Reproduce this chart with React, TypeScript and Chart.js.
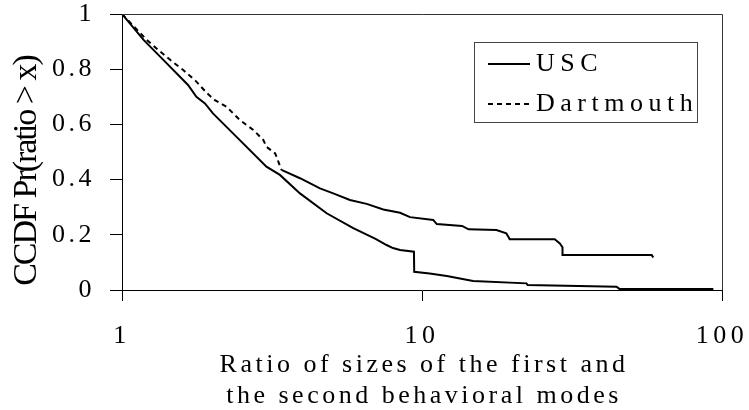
import React, { useEffect, useRef } from "react";
import { Chart, registerables } from "chart.js";

Chart.register(...registerables);

// ---- data ----
const uscX = [1, 1.18, 1.41, 1.66, 1.77, 1.89, 2.01, 2.47, 3.03, 3.36, 3.92, 4.81, 5.9, 7.0, 7.62, 8.0, 8.45, 9.4, 9.42, 10.6, 12.1, 14.8, 22.3, 22.5, 44.5, 45.5, 93.6];
const uscY = [1, 0.906, 0.821, 0.743, 0.7, 0.676, 0.64, 0.543, 0.447, 0.417, 0.35, 0.278, 0.224, 0.185, 0.163, 0.152, 0.145, 0.139, 0.066, 0.06, 0.051, 0.033, 0.024, 0.018, 0.012, 0.004, 0.004];

const dartX = [1, 1.21, 1.32, 1.45, 1.6, 1.77, 1.92, 2.04, 2.23, 2.47, 2.74, 2.96, 3.03, 3.24, 3.32, 3.4, 3.92, 4.57, 5.06, 5.75, 6.54, 7.43, 8.45, 9.12, 10.9, 11.2, 13.6, 14.3, 17.7, 19.1, 19.4, 19.6, 27.7, 28.8, 29.4, 29.4, 58.3, 59];
const dartY = [1, 0.906, 0.87, 0.833, 0.797, 0.755, 0.713, 0.688, 0.664, 0.616, 0.58, 0.543, 0.519, 0.495, 0.465, 0.435, 0.405, 0.368, 0.35, 0.326, 0.312, 0.292, 0.28, 0.264, 0.254, 0.239, 0.232, 0.22, 0.217, 0.205, 0.193, 0.184, 0.184, 0.169, 0.155, 0.127, 0.127, 0.118];

const seriesLabels = ["USC", "Dartmouth"];
const xTickValues = [1, 10, 100];
const xTickLabels = ["1", "10", "100"];
const yTickValues = [0, 0.2, 0.4, 0.6, 0.8, 1];
const yTickLabels = ["0", "0.2", "0.4", "0.6", "0.8", "1"];
const xTitleLines = ["Ratio of sizes of the first and", "the second behavioral modes"];
const yTitle = "CCDF Pr(ratio > x)";
const dartDashedBelowX = 3.35;

const FONT = "'Liberation Serif', 'Times New Roman', serif";
const DASH = [5, 4];

const decorPlugin = {
  id: "decor",
  beforeLayout(chart: any) {
    chart.ctx.letterSpacing = "4.5px";
  },
  afterLayout(chart: any) {
    const ys = chart.scales.y;
    if (ys && !ys.__patched) {
      const orig = ys.drawLabels;
      ys.drawLabels = function (area: any) {
        const c = this.ctx;
        c.save();
        c.letterSpacing = "3.5px";
        orig.call(this, area);
        c.restore();
      };
      ys.__patched = true;
    }
  },
  beforeDraw(chart: any) {
    chart.ctx.letterSpacing = "4.5px";
  },
  afterDraw(chart: any) {
    const { ctx, chartArea: ca } = chart;
    ctx.save();
    ctx.letterSpacing = "0px";
    // frame top + right
    ctx.strokeStyle = "#333";
    ctx.lineWidth = 1;
    ctx.setLineDash([]);
    ctx.beginPath();
    ctx.moveTo(ca.left, Math.round(ca.top) + 0.5);
    ctx.lineTo(Math.round(ca.right) + 0.5, Math.round(ca.top) + 0.5);
    ctx.lineTo(Math.round(ca.right) + 0.5, ca.bottom);
    ctx.stroke();

    // x title
    ctx.fillStyle = "#000";
    ctx.font = `26px ${FONT}`;
    ctx.letterSpacing = "3.5px";
    ctx.textAlign = "center";
    ctx.textBaseline = "alphabetic";
    const cx = (ca.left + ca.right) / 2 + 2;
    ctx.fillText(xTitleLines[0], cx, ca.bottom + 82);
    ctx.fillText(xTitleLines[1], cx, ca.bottom + 113);

    // y title
    ctx.save();
    ctx.translate(36, 171);
    ctx.rotate(-Math.PI / 2);
    ctx.font = `34px ${FONT}`;
    ctx.letterSpacing = "-2px";
    ctx.textAlign = "center";
    ctx.textBaseline = "alphabetic";
    ctx.fillText(yTitle, 0, 0);
    ctx.restore();

    // legend
    const bx = 474, by = 42, bw = 223, bh = 80;
    ctx.strokeStyle = "#444";
    ctx.lineWidth = 1;
    ctx.strokeRect(bx + 0.5, by + 0.5, bw, bh);
    const rows = [64, 104];
    chart.data.datasets.forEach((ds: any, i: number) => {
      const y = rows[i];
      ctx.strokeStyle = "#000";
      ctx.lineWidth = 2;
      ctx.setLineDash(i === 1 ? DASH : []);
      ctx.beginPath();
      ctx.moveTo(488, y);
      ctx.lineTo(530, y);
      ctx.stroke();
      ctx.setLineDash([]);
      ctx.font = `26px ${FONT}`;
      ctx.letterSpacing = "5.5px";
      ctx.textAlign = "left";
      ctx.textBaseline = "middle";
      ctx.fillStyle = "#000";
      ctx.fillText(ds.label, 536, y + 0.5);
    });
    ctx.restore();
  },
};

export default function App() {
  const ref = useRef<HTMLCanvasElement | null>(null);

  useEffect(() => {
    document.body.style.margin = "0";
    const canvas = ref.current;
    if (!canvas) return;
    const usc = uscX.map((x, i) => ({ x, y: uscY[i] }));
    const dart = dartX.map((x, i) => ({ x, y: dartY[i] }));
    const chart = new Chart(canvas, {
      type: "line",
      data: {
        datasets: [
          {
            label: seriesLabels[0],
            data: usc,
            borderColor: "#000",
            borderWidth: 2,
            pointRadius: 0,
            tension: 0,
            fill: false,
          },
          {
            label: seriesLabels[1],
            data: dart,
            borderColor: "#000",
            borderWidth: 2,
            pointRadius: 0,
            tension: 0,
            fill: false,
            segment: {
              borderDash: (c: any) => (c.p0.parsed.x < dartDashedBelowX ? DASH : []),
            },
          },
        ],
      },
      options: {
        responsive: false,
        animation: false,
        events: [],
        layout: { padding: { top: 14, right: 27, left: 0, bottom: 0 } },
        plugins: {
          legend: { display: false },
          tooltip: { enabled: false },
          title: { display: false },
        },
        scales: {
          x: {
            type: "logarithmic",
            min: 1,
            max: 100,
            afterBuildTicks: (scale: any) => {
              scale.ticks = xTickValues.map((v) => ({ value: v }));
            },
            afterFit: (scale: any) => {
              scale.height = 120;
              scale.paddingLeft = 0;
              scale.paddingRight = 0;
            },
            ticks: {
              color: "#000",
              font: { family: FONT, size: 26, lineHeight: 1 },
              padding: 22,
              maxRotation: 0,
              autoSkip: false,
              callback: (v: any) => {
                const i = xTickValues.indexOf(Number(v));
                return i >= 0 ? xTickLabels[i] : "";
              },
            },
            grid: {
              display: true,
              drawOnChartArea: false,
              drawTicks: true,
              tickLength: 11,
              color: "#000",
              lineWidth: 1,
            },
            border: { display: true, color: "#000", width: 1 },
          },
          y: {
            type: "linear",
            min: 0,
            max: 1,
            afterBuildTicks: (scale: any) => {
              scale.ticks = yTickValues.map((v) => ({ value: v }));
            },
            afterFit: (scale: any) => {
              scale.width = 122;
              scale.paddingTop = 0;
              scale.paddingBottom = 0;
            },
            ticks: {
              color: "#000",
              font: { family: FONT, size: 26, lineHeight: 1 },
              padding: 15,
              autoSkip: false,
              callback: (v: any) => {
                const i = yTickValues.findIndex((t) => Math.abs(t - Number(v)) < 1e-9);
                return i >= 0 ? yTickLabels[i] : "";
              },
            },
            grid: {
              display: true,
              drawOnChartArea: false,
              drawTicks: true,
              tickLength: 12,
              color: "#000",
              lineWidth: 1,
            },
            border: { display: true, color: "#000", width: 1 },
          },
        },
      },
      plugins: [decorPlugin],
    } as any);
    return () => chart.destroy();
  }, []);

  return (
    <div style={{ position: "absolute", left: 0, top: 0, width: 749, height: 410, background: "#fff" }}>
      <canvas ref={ref} width={749} height={410} style={{ display: "block" }} />
    </div>
  );
}
